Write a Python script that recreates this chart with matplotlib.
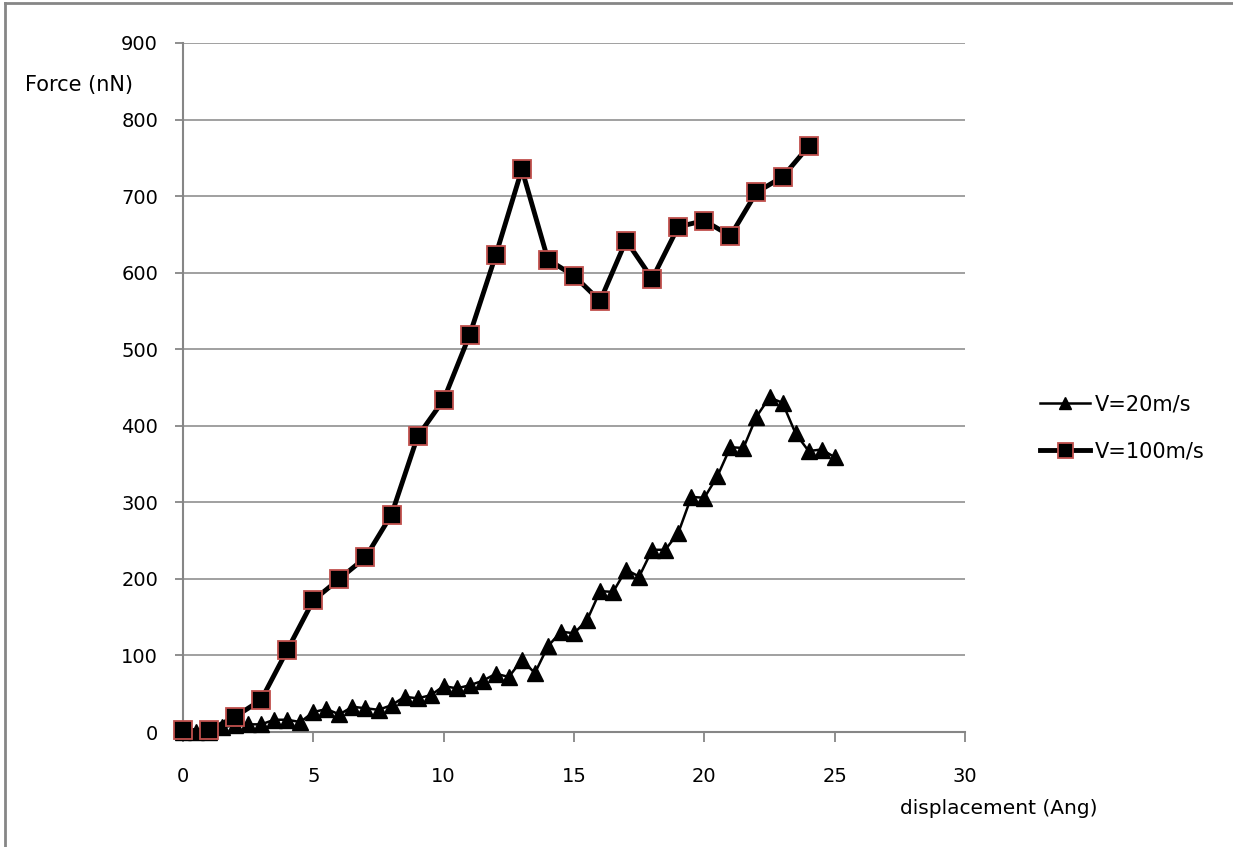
import matplotlib
matplotlib.use("Agg")
import matplotlib.pyplot as plt
from matplotlib.lines import Line2D

plt.rcParams['font.family'] = ['DejaVu Sans']

# V=20m/s series (step 0.5)
x20 = [0, 0.5, 1, 1.5, 2, 2.5, 3, 3.5, 4, 4.5, 5, 5.5, 6, 6.5, 7, 7.5, 8, 8.5, 9, 9.5,
       10, 10.5, 11, 11.5, 12, 12.5, 13, 13.5, 14, 14.5, 15, 15.5, 16, 16.5, 17, 17.5,
       18, 18.5, 19, 19.5, 20, 20.5, 21, 21.5, 22, 22.5, 23, 23.5, 24, 24.5, 25]
y20 = [0, 0, 0, 6, 9, 10, 10, 16, 16, 13, 26, 30, 23, 33, 31, 29, 35, 46, 44, 48,
       60, 57, 61, 67, 76, 72, 94, 77, 112, 131, 129, 146, 184, 183, 212, 203,
       238, 238, 260, 307, 306, 334, 372, 371, 412, 437, 430, 390, 367, 369, 359]

# V=100m/s series
x100 = list(range(0, 25))
y100 = [2, 2, 20, 42, 107, 172, 200, 228, 284, 386, 434, 519, 623, 735, 617, 596,
        563, 642, 592, 660, 668, 648, 705, 725, 765]

labels = ['V=20m/s', 'V=100m/s']
xticks = [0, 5, 10, 15, 20, 25, 30]
yticks = [0, 100, 200, 300, 400, 500, 600, 700, 800, 900]

W, H = 1233, 847
fig = plt.figure(figsize=(W / 100, H / 100), dpi=100)
ax = fig.add_axes([183 / W, 1 - 732 / H, (965 - 183) / W, (732 - 43) / H])

gray = '#868686'
ax.set_xlim(0, 30)
ax.set_ylim(0, 900)
ax.set_xticks(xticks)
ax.set_yticks(yticks)
ax.yaxis.grid(True, color=gray, linewidth=1.1)
ax.set_axisbelow(True)
for s in ['top', 'right']:
    ax.spines[s].set_visible(False)
for s in ['left', 'bottom']:
    ax.spines[s].set_color(gray)
    ax.spines[s].set_linewidth(1.5)
    ax.spines[s].set_zorder(0.5)
ax.tick_params(axis='both', colors=gray, labelcolor='black', labelsize=14, width=1.3)
ax.tick_params(axis='x', length=7, pad=18)
ax.tick_params(axis='y', length=6, pad=12)

l1, = ax.plot(x20, y20, color='black', linewidth=1.8, marker='^', markersize=11,
              markerfacecolor='black', markeredgecolor='black', clip_on=False, zorder=3)
l2, = ax.plot(x100, y100, color='black', linewidth=3.5, marker='s', markersize=13.5,
              markerfacecolor='black', markeredgecolor='#C0504D', markeredgewidth=1.3,
              clip_on=False, zorder=4)

leg = fig.legend([l1, l2], labels, loc='upper left', bbox_to_anchor=(1040 / W, 1 - 394 / H),
                 frameon=False, fontsize=15, handlelength=2.4, handletextpad=0.22,
                 labelspacing=1.3, markerscale=0.8, borderpad=0, borderaxespad=0)

fig.text(25 / W, 1 - 85 / H, 'Force (nN)', fontsize=15, ha='left', va='center')
fig.text(900 / W, 1 - 808 / H, 'displacement (Ang)', fontsize=14.5, ha='left', va='center')

# outer frame lines (top and left)
fig.add_artist(Line2D([5 / W, 5 / W], [0, 1 - 3 / H], transform=fig.transFigure, color=gray, linewidth=2))
fig.add_artist(Line2D([5 / W, 1], [1 - 3 / H, 1 - 3 / H], transform=fig.transFigure, color=gray, linewidth=2))

fig.savefig('out.png', dpi=100)
